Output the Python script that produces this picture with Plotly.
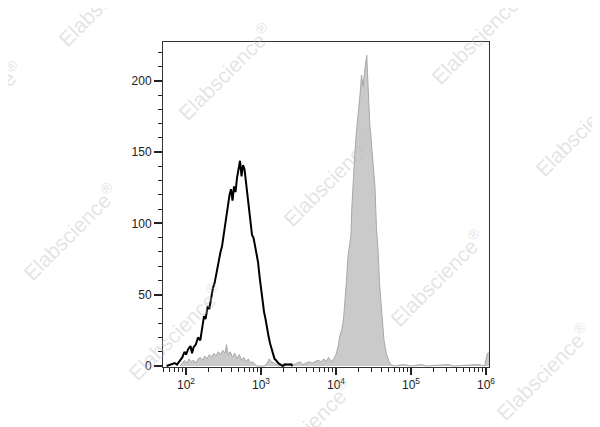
import plotly.graph_objects as go

# ---- data ----
# black outlined histogram: log10(intensity), count
black_log = [1.74, 1.80, 1.85, 1.88, 1.92, 1.95, 1.98, 2.00, 2.03, 2.06, 2.08, 2.10, 2.13, 2.16,
             2.19, 2.22, 2.24, 2.26, 2.29, 2.31, 2.33, 2.36, 2.38, 2.40, 2.42, 2.44, 2.46, 2.48,
             2.50, 2.52, 2.54, 2.56, 2.58, 2.60, 2.62, 2.64, 2.66, 2.68, 2.70, 2.72, 2.74, 2.76,
             2.78, 2.80, 2.82, 2.84, 2.86, 2.88, 2.90, 2.92, 2.94, 2.96, 2.98, 3.00, 3.02, 3.04,
             3.06, 3.08, 3.10, 3.12, 3.14, 3.16, 3.18, 3.20, 3.23, 3.26, 3.29, 3.32, 3.36, 3.40, 3.42]
black_cnt = [0, 1, 2, 1, 4, 6, 10, 8, 12, 14, 9, 13, 15, 20,
             18, 27, 35, 33, 42, 40, 47, 55, 58, 64, 68, 74, 80, 84,
             92, 100, 106, 116, 120, 124, 116, 126, 122, 132, 140, 144, 133, 141,
             138, 129, 120, 113, 100, 92, 90, 85, 80, 73, 63, 54, 47, 38,
             33, 26, 21, 16, 12, 8, 5, 4, 2, 1, 0, 1, 1, 1, 0]

# grey filled histogram: log10(intensity), count
grey_log = [1.92, 1.95, 1.98, 2.01, 2.04, 2.07, 2.10, 2.13, 2.16, 2.19, 2.22, 2.25, 2.28, 2.31,
            2.34, 2.37, 2.40, 2.43, 2.46, 2.49, 2.52, 2.54, 2.56, 2.59, 2.62, 2.65, 2.68, 2.71,
            2.74, 2.77, 2.80, 2.83, 2.86, 2.89, 2.92, 2.95, 3.00, 3.05, 3.08, 3.11, 3.14, 3.17,
            3.20, 3.24, 3.28, 3.32, 3.36, 3.40, 3.44, 3.48, 3.52, 3.56, 3.60, 3.64, 3.68, 3.72,
            3.76, 3.80, 3.84, 3.87, 3.90, 3.94, 3.97, 4.00, 4.03, 4.05, 4.08, 4.10, 4.12, 4.14,
            4.16, 4.18, 4.20, 4.21, 4.23, 4.25, 4.27, 4.28, 4.30, 4.32, 4.34, 4.36, 4.38, 4.40,
            4.41, 4.42, 4.43, 4.45, 4.47, 4.49, 4.51, 4.52, 4.54, 4.56, 4.58, 4.60, 4.62, 4.64,
            4.67, 4.70, 4.73, 4.78, 4.90, 5.00, 5.14, 5.20, 5.50, 5.56, 5.90, 5.98, 6.02, 6.04]
grey_cnt = [0, 2, 4, 2, 5, 3, 4, 2, 5, 6, 4, 7, 5, 8,
            6, 9, 7, 10, 8, 11, 9, 15, 8, 10, 6, 9, 5, 8,
            4, 6, 3, 5, 2, 3, 1, 0, 0, 0, 2, 5, 3, 2,
            1, 0, 1, 2, 1, 2, 1, 2, 3, 1, 2, 3, 2, 3,
            4, 3, 5, 3, 6, 3, 5, 8, 14, 21, 26, 33, 45, 60,
            77, 84, 92, 110, 134, 148, 163, 168, 176, 190, 204, 196, 206, 212,
            218, 205, 188, 170, 158, 145, 134, 125, 96, 82, 58, 42, 28, 18,
            9, 4, 1, 0, 1, 0, 1, 0, 1, 0, 1, 0, 9, 9]

x_tick_exp = [2, 3, 4, 5, 6]
y_tick_vals = [0, 50, 100, 150, 200]

watermark_text = "Elabscience<sup>®</sup>"
# watermark centres, in picture pixels
watermark_xy = [(105, -2), (-25, 110), (225, 72), (478, 36), (330, 178), (582, 128),
                (70, 232), (437, 278), (175, 332), (543, 372), (305, 428)]

# page offset of the figure inside the browser window (default body margin)
OFF = 8
W, H = 600, 427
PL, PR, PT, PB = 163, 489, 42, 367   # plot box in picture pixels

# ---- figure ----
fig = go.Figure()
fig.add_trace(go.Scatter(
    x=[10 ** v for v in grey_log], y=grey_cnt, mode="lines",
    line=dict(color="#a8a8a8", width=1), fill="tozeroy", fillcolor="#cacaca",
    hoverinfo="skip", showlegend=False))
fig.add_trace(go.Scatter(
    x=[10 ** v for v in black_log], y=black_cnt, mode="lines",
    line=dict(color="#000000", width=2), hoverinfo="skip", showlegend=False))

font = dict(family="Liberation Sans, Arial, sans-serif", size=12, color="#222222")

fig.update_xaxes(
    type="log", range=[1.693, 6.04],
    tickmode="array", tickvals=[10 ** e for e in x_tick_exp],
    ticktext=["10<sup>%d</sup>" % e for e in x_tick_exp],
    ticks="outside", ticklen=7, tickwidth=1.5, tickcolor="#222",
    minor=dict(ticks="outside", ticklen=4, tickwidth=1.2, tickcolor="#222", dtick="D1"),
    showline=True, linecolor="#333", linewidth=1, mirror=True,
    showgrid=False, zeroline=False, tickfont=font)
fig.update_yaxes(
    range=[-0.7, 227.3], tickmode="array", tickvals=y_tick_vals,
    ticks="outside", ticklen=8, tickwidth=1.5, tickcolor="#222",
    minor=dict(ticks="outside", ticklen=4, tickwidth=1.2, tickcolor="#222", dtick=10, tick0=0),
    showline=True, linecolor="#333", linewidth=1, mirror=True,
    showgrid=False, zeroline=False, tickfont=font)

for (px, py) in watermark_xy:
    fig.add_annotation(
        x=(px - PL) / (PR - PL), y=(PB - py) / (PB - PT), xref="paper", yref="paper",
        text=watermark_text, showarrow=False, textangle=-45,
        font=dict(family="Liberation Sans, Arial, sans-serif", size=21,
                  color="rgba(190,190,190,0.42)"),
        xanchor="center", yanchor="middle")

fig.update_layout(
    width=W, height=H,
    margin=dict(l=PL - OFF, r=W - PR + OFF, t=PT - OFF, b=H - PB + OFF),
    plot_bgcolor="white", paper_bgcolor="white",
    showlegend=False)

fig.write_html("out.html")
